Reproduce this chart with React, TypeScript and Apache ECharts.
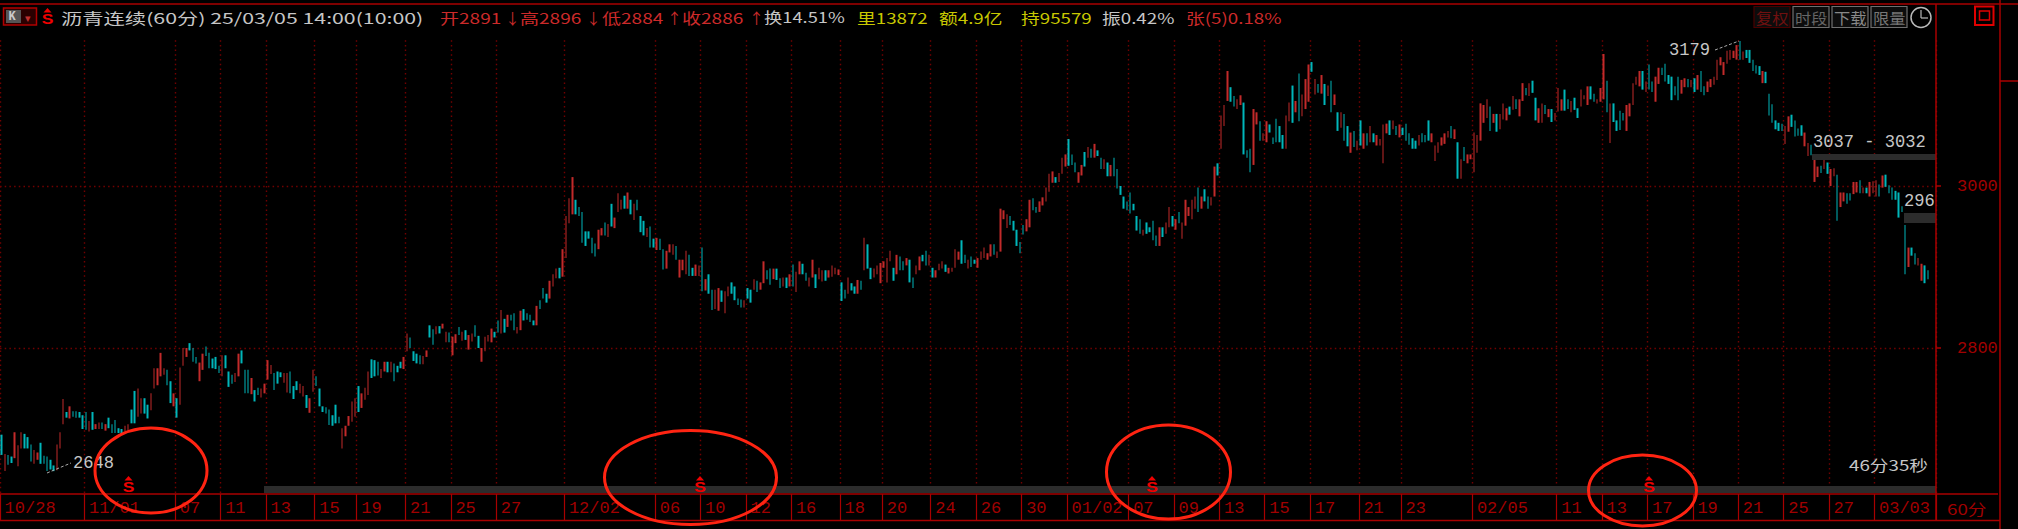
import React, { useEffect, useRef } from "react";
import * as echarts from "echarts";

// [open, close] of each 60-minute bar, red when close > open, teal otherwise
const barsNov: number[][] = [
[2693,2668],[2648,2669],[2668,2656],[2666,2658],[2664,2696],[2654,2680],[2676,2696],[2694,2676],[2690,2676],[2681,2660],
[2657,2674],[2662,2671],[2683,2657],[2667,2657],[2666,2648],[2662,2650],[2655,2648],[2649,2681],[2676,2696],[2706,2737],
[2721,2714],[2713,2728],[2722,2715],[2722,2714],[2721,2714],[2717,2700],[2721,2699],[2697,2710],[2721,2699],[2700,2706],
[2700,2708],[2708,2700],[2698,2706],[2714,2701],[2706,2695],[2711,2695],[2701,2695],[2700,2693],[2697,2704],[2698,2706],
[2724,2707],[2747,2707],[2715,2750],[2719,2738],[2738,2719],[2730,2713],[2723,2744],[2750,2775],[2754,2775],[2765,2794],
[2767,2775],[2773,2754],[2759,2732],[2728,2744],[2738,2714],[2730,2776],[2778,2800],[2789,2800],[2806,2797],[2800,2783],
[2789,2781],[2759,2782],[2773,2793],[2802,2790],[2794,2775],[2787,2775],[2789,2774],[2778,2769],[2765,2791],[2791,2775],
[2771,2752],[2767,2756],[2758,2769],[2765,2793],[2797,2781],[2773,2744],[2773,2744],[2743,2763],[2748,2734],[2751,2742],
[2739,2750],[2744,2756],[2761,2785],[2768,2779],[2769,2748],[2771,2756],[2770,2764],[2757,2769],[2745,2769],[2771,2744],
[2753,2737],[2759,2748],[2744,2756],[2740,2753],[2742,2726],[2720,2738],[2746,2773],[2765,2753],[2750,2728],[2728,2721],
[2727,2719],[2724,2705],[2717,2704],[2730,2707],[2715,2707],[2676,2701],[2691,2704],[2704,2716],[2709,2734],[2715,2738],
[2753,2721],[2726,2744],[2736,2751],[2742,2771],[2786,2763],[2785,2765],[2783,2766],[2763,2774],[2771,2783],[2783,2770],
[2770,2783],[2781,2759],[2778,2770],[2783,2775],[2774,2789],[2796,2818],[2813,2800],[2796,2784],[2793,2781],[2791,2780],[2780,2790],
[2789,2797],[2828,2813],[2823,2804],[2817,2827],[2827,2818],[2824,2830],[2807,2820],[2819,2807],[2791,2814],[2806,2817],
[2826,2816],[2809,2820],[2822,2810],[2798,2816],[2808,2818],[2828,2814],[2815,2800],[2783,2800],[2796,2814],[2808,2816],
[2807,2824],[2820,2813],[2834,2819],[2818,2847],
];

const barsDec: number[][] = [
[2836,2819],[2826,2841],[2841,2834],[2843,2822],[2818,2826],[2822,2846],[2848,2834],[2843,2835],[2841,2832],[2834,2828],
[2828,2852],[2859,2848],[2874,2861],[2867,2856],[2861,2883],[2876,2891],[2886,2898],[2899,2886],[2888,2922],[2911,2963],
[2954,2985],[2965,3011],[2983,2965],[2974,2963],[2968,2930],[2944,2926],[2944,2935],[2936,2917],[2929,2913],[2922,2946],
[2939,2948],[2955,2939],[2937,2953],[2978,2950],[2948,2961],[2968,2991],[2971,2983],[2988,2972],[2972,2992],[2983,2965],
[2958,2978],[2983,2970],[2963,2943],[2957,2939],[2937,2948],[2950,2924],[2935,2924],[2921,2936],[2935,2921],[2922,2897],
[2898,2920],[2918,2928],[2915,2928],[2926,2909],[2887,2909],[2896,2909],[2891,2920],[2915,2889],[2899,2889],[2889,2903],
[2889,2902],[2924,2870],[2871,2885],[2891,2867],[2872,2847],[2848,2872],[2846,2874],[2871,2857],[2843,2870],[2864,2876],
[2881,2867],[2876,2859],[2861,2853],[2860,2850],[2850,2859],[2874,2861],[2872,2856],[2872,2885],[2883,2869],[2872,2881],
[2880,2907],[2896,2885],[2898,2878],[2885,2898],[2898,2884],[2886,2874],[2876,2887],[2887,2874],[2876,2891],[2903,2876],
[2869,2894],[2891,2907],[2904,2891],[2893,2883],[2876,2887],[2887,2909],[2891,2874],[2885,2899],[2882,2896],[2896,2883],
[2887,2896],[2888,2902],[2891,2899],[2890,2897],[2881,2858],[2872,2861],[2867,2887],[2880,2871],[2876,2867],[2867,2884],[2883,2872],
[2896,2936],[2928,2898],[2899,2885],[2887,2898],[2891,2902],[2880,2905],[2899,2907],[2881,2911],[2907,2920],[2899,2883],
[2891,2915],[2913,2896],[2907,2896],[2902,2911],[2909,2881],[2887,2874],[2891,2902],[2896,2913],[2915,2907],[2920,2902],
[2902,2915],[2899,2887],[2887,2896],[2896,2904],[2898,2907],[2903,2894],[2892,2899],[2894,2899],[2899,2922],[2909,2919],
[2933,2904],[2915,2905],[2898,2909],[2913,2900],[2909,2904],[2899,2911],[2909,2919],[2911,2924],[2909,2917],[2913,2928],
[2928,2915],[2911,2919],[2919,2972],
];

const barsJan: number[][] = [
[2959,2970],[2948,2965],[2963,2952],[2957,2945],[2946,2926],[2931,2917],[2952,2940],[2944,2959],[2949,2983],[2985,2970],
[2974,2967],[2968,2981],[2976,2986],[2981,2998],[2993,3015],[3004,3018],[3011,3004],[3005,3016],[3015,3035],[3024,3039],
[3058,3025],[3039,3026],[3029,3017],[3004,3017],[3013,3026],[3042,3024],[3035,3048],[3046,3035],[3035,3052],[3044,3037],
[3035,3021],[3021,3033],[3029,3012],[3012,3026],[3035,3012],[3021,2997],[3000,2989],[2987,2972],[2981,2970],[2992,2966],
[2978,2970],[2963,2945],[2959,2941],[2939,2946],[2955,2941],[2949,2943],[2957,2933],[2939,2926],[2926,2949],[2949,2937],
[2941,2955],[2949,2974],[2963,2950],[2946,2959],[2968,2954],[2935,2955],[2951,2983],[2963,2974],[2959,2983],[2972,2987],
[2998,2968],[2972,2987],[2996,2981],[2987,2972],[2976,2986],[2987,3024],[3028,3013],[3046,3087],[3074,3100],[3105,3142],
[3122,3104],[3111,3098],[3095,3107],[3100,3112],[3103,3039],[3044,3035],[3046,3017],[3026,3095],[3076,3091],[3080,3056],
[3056,3065],[3054,3080],[3076,3066],[3060,3052],[3083,3054],[3074,3054],[3063,3046],[3046,3087],[3080,3103],[3124,3078],[3091,3105],
[3139,3080],[3086,3113],[3095,3132],[3104,3150],[3153,3141],[3113,3132],[3126,3115],[3114,3137],[3126,3100],[3111,3124],
[3130,3091],[3100,3113],[3091,3068],[3072,3091],[3089,3056],[3074,3049],[3041,3066],[3068,3048],[3044,3056],[3081,3050],
[3046,3065],[3065,3050],[3054,3074],[3065,3054],[3050,3063],[3050,3058],[3028,3076],[3065,3077],[3081,3063],[3070,3081],
[3074,3063],[3060,3076],[3072,3063],[3077,3056],[3065,3051],[3059,3046],[3056,3046],[3050,3063],[3065,3054],[3063,3054],
[3081,3056],[3054,3065],[3031,3050],[3041,3054],[3050,3060],[3052,3065],[3060,3068],[3074,3059],[3058,3070],[3054,3009],
[3009,3033],[3048,3031],[3028,3039],[3033,3039],[3017,3066],[3041,3063],[3056,3102],[3078,3100],[3084,3107],[3098,3068],
[3078,3089],[3089,3067],[3070,3089],
];

const barsFeb: number[][] = [
[3082,3102],[3081,3096],[3098,3088],[3094,3111],[3107,3095],[3086,3107],[3105,3127],[3121,3112],[3111,3127],[3130,3115],
[3109,3081],[3078,3096],[3078,3102],[3100,3089],[3085,3095],[3095,3079],[3081,3090],[3092,3121],[3093,3107],[3119,3093],
[3107,3095],[3091,3105],[3109,3094],[3096,3084],[3098,3119],[3107,3112],[3100,3123],[3123,3107],[3114,3104],[3102,3107],
[3104,3121],[3107,3163],[3130,3091],[3053,3102],[3102,3079],[3081,3068],[3093,3069],[3090,3081],[3068,3100],[3086,3102],
[3100,3127],[3125,3135],[3123,3142],[3142,3119],[3116,3129],[3150,3119],[3129,3116],[3104,3135],[3126,3146],[3146,3137],
[3151,3129],[3137,3126],[3135,3106],[3123,3112],[3135,3106],[3114,3131],[3122,3133],[3132,3122],[3122,3131],[3133,3116],
[3119,3137],[3142,3116],[3123,3112],[3116,3129],[3122,3132],[3125,3135],[3131,3156],[3149,3159],[3137,3153],[3151,3167],
[3156,3168],[3158,3167],[3156,3174],[3179,3156],[3156,3166],[3168,3158],[3168,3152],[3156,3142],[3149,3139],[3148,3137],
[3127,3142],[3141,3127],[3114,3087],[3101,3078],[3081,3070],[3078,3068],[3077,3068],[3052,3074],[3067,3086],[3088,3073],
[3081,3061],[3071,3062],[3075,3062],[3049,3066],[3037,3053],[3051,3038],[3005,3033],[3011,3024],[3025,3016],[3021,3032],
[3029,3015],[3000,3021],[3012,3022],[3014,2957],[2974,2992],[2981,2992],[2991,2978],[2991,2982],[2990,3005],[2992,3005],
[3007,2991],[2991,2998],[2998,2991],[2987,3005],[2991,3006],[2987,3007],[3002,2987],[2998,3013],[3014,2999],[3001,2991],
[2998,2983],[2994,2983],[2992,2961],[2975,2968],[2952,2891],[2900,2924],[2924,2914],[2917,2903],[2902,2911],[2883,2904],
[2902,2880],[2896,2885],
];

const tickLabels = ["10/28","11/01","07","11","13","15","19","21","25","27","12/02","06","10","12","16","18","20","24","26","30","01/02","07","09","13","15","17","21","23","02/05","11","13","17","19","21","25","27","03/03"];
const tickBars = [0,26,54,68,82,97,110,125,139,153,174,202,216,230,244,259,272,287,301,315,329,348,362,376,390,404,419,432,454,480,494,508,522,536,550,564,578];
const priceLabels = [2800, 3000];

const SLOTS = 597;
const RED = "#c22a2a";
const TEAL = "#00b6ba";
const AXIS_RED = "#a80000";
const DOT_RED = "#720000";
const MONO = "'Liberation Mono'";
const CJK = "'Noto Sans CJK SC'";

function txt(text: string, x: number, y: number, fill: string, font: string, scaleX = 1, extra: any = {}) {
  return { type: "text", x, y, scaleX, z: 20, silent: true, style: { text, fill, font, verticalAlign: "middle", ...extra } };
}
function ln(x1: number, y1: number, x2: number, y2: number, stroke: string, lineWidth = 1.5, lineDash?: number[]) {
  return { type: "line", z: 10, silent: true, shape: { x1, y1, x2, y2 }, style: { stroke, lineWidth, lineDash } };
}
function box(x: number, y: number, width: number, height: number, fill: string, stroke = "none", lineWidth = 1) {
  return { type: "rect", z: 8, silent: true, shape: { x, y, width, height }, style: { fill, stroke, lineWidth } };
}
function oval(cx: number, cy: number, rx: number, ry: number, stroke: string, lineWidth = 3) {
  return { type: "ellipse", z: 30, silent: true, shape: { cx, cy, rx, ry }, style: { fill: "none", stroke, lineWidth } };
}
function sMark(cx: number, top: number) {
  return [
    { type: "polygon", z: 20, silent: true, shape: { points: [[cx, top], [cx + 4, top + 4.5], [cx - 4, top + 4.5]] }, style: { fill: "#f00000" } },
    { type: "text", x: cx, y: top + 11.5, z: 20, scaleX: 1.25, silent: true, style: { text: "S", fill: "#f00000", font: `bold 14px 'Liberation Sans'`, align: "center", verticalAlign: "middle" } },
  ];
}
function btn(label: string, x: number, w: number, stroke: string, fill: string) {
  return [box(x, 6.5, w, 21, "#0c0c0c", stroke, 1.2), txt(label, x + 2, 17.5, fill, `15px ${CJK}`, 1.08)];
}

const G_GRAY = "#c6c6c6";
const G_RED = "#cc2a2a";
const G_YEL = "#c8c800";

const graphics: any[] = [
  // frame
  ln(0, 4, 2018, 4, AXIS_RED),
  ln(1936, 4, 1936, 520, AXIS_RED),
  ln(2000, 0, 2000, 529, AXIS_RED),
  ln(2000, 81, 2018, 81, AXIS_RED),
  ln(0, 494, 1998, 494, AXIS_RED),
  ln(0, 520.5, 2000, 520.5, AXIS_RED),
  // gray bands
  box(264, 486, 1672, 7, "#2c2c2c"),
  box(1812, 154, 124, 6, "#2c2c2c"),
  box(1904, 213, 32, 10, "#2c2c2c"),
  // header left
  box(3.5, 8, 33, 17, "#2a0000", "#b00000", 1.5),
  box(6, 10, 15, 13, "#555555"),
  txt("K", 8.5, 17, "#cccccc", `bold 12px ${MONO}`),
  txt("▾", 25, 17, "#c03030", `11px ${CJK}`),
  ...sMark(47.5, 8),
  txt("沥青连续(60分) 25/03/05 14:00(10:00)", 61, 17, G_GRAY, `15px ${CJK}`, 1.42),
  txt("开2891", 440, 17, G_RED, `15px ${CJK}`, 1.27),
  txt("↓", 505, 17, G_RED, `15px ${CJK}`),
  txt("高2896", 520, 17, G_RED, `15px ${CJK}`, 1.27),
  txt("↓", 586, 17, G_RED, `15px ${CJK}`),
  txt("低2884", 602, 17, G_RED, `15px ${CJK}`, 1.27),
  txt("↑", 667, 17, G_RED, `15px ${CJK}`),
  txt("收2886", 682, 17, G_RED, `15px ${CJK}`, 1.27),
  txt("↑", 749, 17, G_RED, `15px ${CJK}`),
  txt("换14.51%", 764, 17, G_GRAY, `15px ${CJK}`, 1.22),
  txt("里13872", 857, 17, G_YEL, `15px ${CJK}`, 1.25),
  txt("额4.9亿", 939, 17, G_YEL, `15px ${CJK}`, 1.25),
  txt("持95579", 1021, 17, G_YEL, `15px ${CJK}`, 1.25),
  txt("振0.42%", 1102, 17, G_GRAY, `15px ${CJK}`, 1.25),
  txt("张(5)0.18%", 1186, 17, G_RED, `15px ${CJK}`, 1.25),
  // header right
  ...btn("复权", 1754, 36, "#4a0000", "#701010"),
  ...btn("时段", 1793, 36, "#707070", "#666666"),
  ...btn("下载", 1832, 36, "#707070", "#888888"),
  ...btn("限量", 1871, 36, "#707070", "#777777"),
  oval(1921, 17.5, 10, 10, "#b8b8b8", 1.5),
  ln(1921, 10, 1921, 18, "#b8b8b8", 1.2),
  ln(1921, 18, 1928, 18, "#b8b8b8", 1.2),
  box(1975, 6.5, 18.5, 18.5, "none", "#e00000", 2),
  box(1979.5, 11, 10, 9, "none", "#e00000", 1.5),
  // annotations
  txt("2648", 73, 463, G_GRAY, `19px ${MONO}`, 0.9),
  ln(47, 473, 71, 463, "#aaaaaa", 1, [3, 2]),
  txt("3179", 1669, 50, G_GRAY, `19px ${MONO}`, 0.9),
  ln(1715, 50, 1739, 41, "#aaaaaa", 1, [3, 2]),
  txt("3037 - 3032", 1813, 142, G_GRAY, `19px ${MONO}`, 0.9),
  txt("296", 1904, 201, G_GRAY, `19px ${MONO}`, 0.9),
  txt("46分35秒", 1849, 464, G_GRAY, `15px ${CJK}`, 1.25),
  txt("60分", 1947, 508, "#a00000", `15px ${CJK}`, 1.25),
  // S markers
  ...sMark(128.5, 476),
  ...sMark(700, 476),
  ...sMark(1152, 476),
  ...sMark(1649, 476),
  // hand-drawn circles
  oval(151, 470.5, 56, 42.5, "#ff2412"),
  oval(690.5, 477.5, 86, 47, "#ff2412"),
  oval(1168.5, 472, 62, 47, "#ff2412"),
  oval(1642.5, 490.5, 54, 35.5, "#ff2412"),
];

export default function App() {
  const ref = useRef<HTMLDivElement>(null);
  useEffect(() => {
    document.body.style.margin = "0";
    document.body.style.background = "#000";
    const chart = echarts.init(ref.current!, undefined, { renderer: "svg" });
    const bars = [...barsNov, ...barsDec, ...barsJan, ...barsFeb];
    const seriesData = bars.map(([o, c]) => [o, c, Math.min(o, c), Math.max(o, c)]);
    const names: string[] = Array.from({ length: SLOTS }, () => "");
    tickBars.forEach((b, i) => { names[b] = tickLabels[i]; });
    const tickSet = new Set(tickBars);
    const isTick = (i: number) => tickSet.has(i);
    const gridBox = { left: -3.2, width: 1939.2 };
    chart.setOption({
      animation: false,
      backgroundColor: "#000",
      grid: [
        { ...gridBox, top: 40.2, height: 453.6 },
        { ...gridBox, top: 494, height: 26 },
      ],
      xAxis: [
        {
          type: "category", gridIndex: 0, data: names, boundaryGap: true,
          axisLine: { show: false },
          axisLabel: { show: false },
          axisTick: { show: false, alignWithLabel: true, interval: isTick },
          splitLine: { show: true, interval: isTick, lineStyle: { color: DOT_RED, width: 1.4, type: [1.5, 3.2] } },
        },
        {
          type: "category", gridIndex: 1, data: names, boundaryGap: true,
          axisLine: { show: false },
          axisTick: { show: false, alignWithLabel: true, interval: isTick },
          axisLabel: {
            show: true, inside: true, margin: 3, interval: isTick, align: "left", padding: [0, 0, 0, 3],
            color: "#a00000", fontFamily: "Liberation Mono", fontSize: 17, hideOverlap: false,
          },
          splitLine: { show: true, interval: isTick, lineStyle: { color: AXIS_RED, width: 1.2 } },
        },
      ],
      yAxis: [
        {
          type: "value", gridIndex: 0, position: "right", min: 2620, max: 3180, scale: true,
          axisLine: { show: false },
          axisTick: { show: true, length: 5, customValues: priceLabels, lineStyle: { color: AXIS_RED, width: 1.5 } },
          axisLabel: {
            show: true, customValues: priceLabels, margin: 21, align: "left",
            formatter: (v: number) => String(v),
            color: "#a00000", fontFamily: "Liberation Mono", fontSize: 17,
          },
          splitLine: { show: true, lineStyle: { color: DOT_RED, width: 1.4, type: [1.5, 3.2] } },
        },
        { type: "value", gridIndex: 1, show: false },
      ],
      series: [
        {
          type: "candlestick", xAxisIndex: 0, yAxisIndex: 0, data: seriesData,
          barWidth: 2, large: false, progressive: 0, z: 5,
          itemStyle: { color: RED, color0: TEAL, borderColor: RED, borderColor0: TEAL, borderWidth: 0 },
        },
      ],
      graphic: { elements: graphics },
    });
    return () => chart.dispose();
  }, []);
  return <div ref={ref} style={{ position: "absolute", left: 0, top: 0, width: 2018, height: 529 }} />;
}
